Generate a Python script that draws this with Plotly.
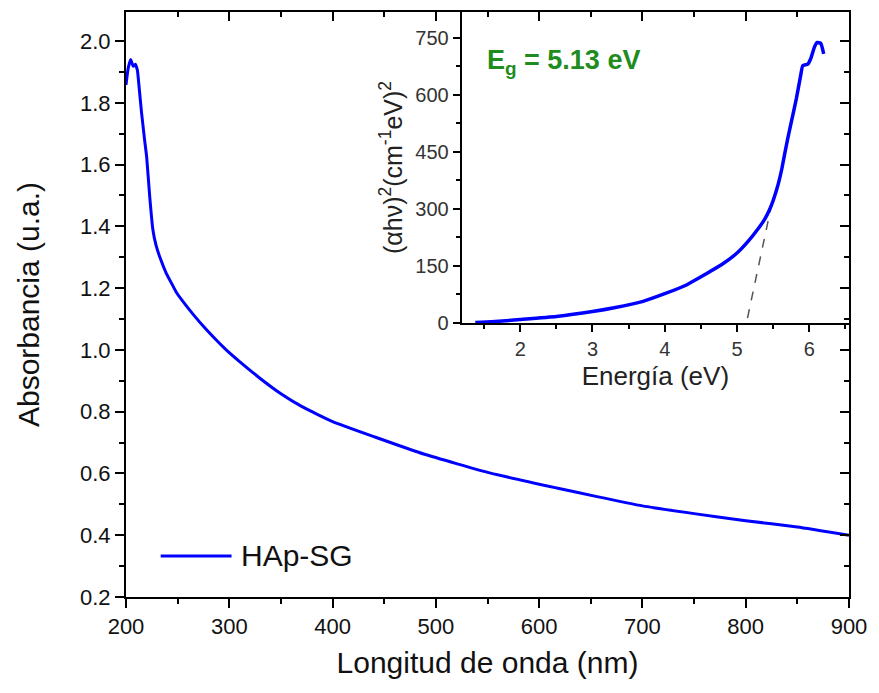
import plotly.graph_objects as go

# UV-Vis absorbance spectrum of HAp-SG
series_name = "HAp-SG"
wavelength_nm = [200, 202, 204.5, 207, 209, 211, 213, 215, 218, 220, 223, 226, 229,
                 233, 239, 245, 249, 256, 265, 278, 297, 310, 329, 350, 370, 400,
                 441, 489, 553, 617, 656, 700, 750, 800, 850, 900]
absorbance = [1.858, 1.91, 1.94, 1.918, 1.925, 1.906, 1.84, 1.77, 1.68, 1.625, 1.495,
              1.39, 1.34, 1.298, 1.248, 1.21, 1.185, 1.153, 1.115, 1.065, 1.00, 0.962,
              0.91, 0.858, 0.817, 0.768, 0.718, 0.662, 0.601, 0.553, 0.525, 0.495,
              0.47, 0.447, 0.427, 0.40]

# Tauc plot (direct transition)
energy_ev = [1.378, 1.6, 2.0, 2.5, 3.0, 3.3, 3.7, 4.0, 4.3, 4.57, 4.8, 5.0, 5.15, 5.3,
             5.38, 5.45, 5.5, 5.57, 5.62, 5.66, 5.7, 5.75, 5.82, 5.88, 5.91, 5.98,
             6.02, 6.07, 6.11, 6.16, 6.2]
tauc_value = [1, 3, 9, 17, 30, 40, 57, 77, 100, 129, 155, 184, 214, 250,
              272, 298, 322, 365, 405, 445, 483, 527, 589, 650, 677, 681,
              695, 725, 738, 735, 708]

# Linear extrapolation to the energy axis
fit_energy = [5.145, 5.465]
fit_value = [13, 299]
band_gap_text = "E<sub>g</sub> = 5.13 eV"

FONT = "Liberation Sans, Arial, sans-serif"
BLUE = "#0000ff"

fig = go.Figure()
fig.add_trace(go.Scatter(x=wavelength_nm, y=absorbance, mode="lines",
                         line=dict(color=BLUE, width=3, shape="spline", smoothing=0.4),
                         name=series_name, showlegend=False, xaxis="x", yaxis="y"))
fig.add_trace(go.Scatter(x=fit_energy, y=fit_value, mode="lines",
                         line=dict(color="#555555", width=1.5, dash="dash"),
                         showlegend=False, xaxis="x2", yaxis="y2"))
fig.add_trace(go.Scatter(x=energy_ev, y=tauc_value, mode="lines",
                         line=dict(color=BLUE, width=3.5, shape="spline", smoothing=0.4),
                         showlegend=False, xaxis="x2", yaxis="y2"))
# frame axes carrying the inward ticks on top and right
fig.add_trace(go.Scatter(x=[None], y=[None], xaxis="x3", yaxis="y3",
                         showlegend=False, hoverinfo="skip"))

axis_common = dict(showline=True, linecolor="black", linewidth=2, showgrid=False,
                   zeroline=False, tickcolor="black", tickwidth=2)

fig.update_layout(
    width=879, height=693,
    margin=dict(l=126, r=25, t=12, b=96),
    paper_bgcolor="white", plot_bgcolor="rgba(0,0,0,0)",
    font=dict(family=FONT, color="#111111"),
    xaxis=dict(range=[200, 900], dtick=100, tick0=0, ticks="outside", ticklen=9,
               minor=dict(dtick=50, ticks="outside", ticklen=5, tickcolor="black", tickwidth=2),
               tickfont=dict(size=22), anchor="y", ticklabeloverflow="allow",
               title=dict(text="Longitud de onda (nm)", font=dict(size=30), standoff=14),
               **axis_common),
    yaxis=dict(range=[0.2, 2.094], dtick=0.2, tick0=0, ticks="outside", ticklen=9,
               tickformat=".1f",
               minor=dict(dtick=0.1, ticks="outside", ticklen=5, tickcolor="black", tickwidth=2),
               tickfont=dict(size=22), anchor="x",
               title=dict(text="Absorbancia (u.a.)", font=dict(size=30), standoff=32),
               **axis_common),
    xaxis3=dict(range=[200, 900], dtick=100, tick0=0, ticks="inside", ticklen=9,
                minor=dict(dtick=50, ticks="inside", ticklen=5, tickcolor="black", tickwidth=2),
                showticklabels=False, overlaying="x", side="top", anchor="y",
                **axis_common),
    yaxis3=dict(range=[0.2, 2.094], dtick=0.2, tick0=0, ticks="inside", ticklen=9,
                minor=dict(dtick=0.1, ticks="inside", ticklen=5, tickcolor="black", tickwidth=2),
                showticklabels=False, overlaying="y", side="right", anchor="x",
                **axis_common),
    xaxis2=dict(domain=[0.4643, 1.0], range=[1.19, 6.55], dtick=1, tick0=0,
                ticks="outside", ticklen=7,
                minor=dict(dtick=0.5, ticks="outside", ticklen=4, tickcolor="black", tickwidth=1.5),
                tickfont=dict(size=20, color="#333333"), anchor="y2",
                title=dict(text="Energía (eV)", font=dict(size=26, color="#222222"), standoff=8),
                **axis_common),
    yaxis2=dict(domain=[0.4684, 1.0], range=[0, 818], dtick=150, tick0=0,
                ticks="outside", ticklen=7,
                minor=dict(dtick=75, ticks="outside", ticklen=4, tickcolor="black", tickwidth=1.5),
                tickfont=dict(size=20, color="#333333"), anchor="x2",
                title=dict(text="(αhν)<sup>2</sup>(cm<sup>-1</sup>eV)<sup>2</sup>",
                           font=dict(size=25, color="#222222"), standoff=6),
                **axis_common),
    showlegend=False,
)

# band gap label
fig.add_annotation(text="<b>" + band_gap_text + "</b>", xref="paper", yref="paper",
                   x=0.496, y=0.9145, xanchor="left", yanchor="middle", showarrow=False,
                   font=dict(size=27, color="#1e8c1e", family=FONT))

# legend entry
fig.add_shape(type="line", xref="paper", yref="paper", x0=0.048, x1=0.146,
              y0=0.0701, y1=0.0701, line=dict(color=BLUE, width=3))
fig.add_annotation(text=series_name, xref="paper", yref="paper", x=0.156, y=0.0701,
                   xanchor="left", yanchor="middle", showarrow=False,
                   font=dict(size=30, color="#111111", family=FONT))

fig.write_html("out.html")
